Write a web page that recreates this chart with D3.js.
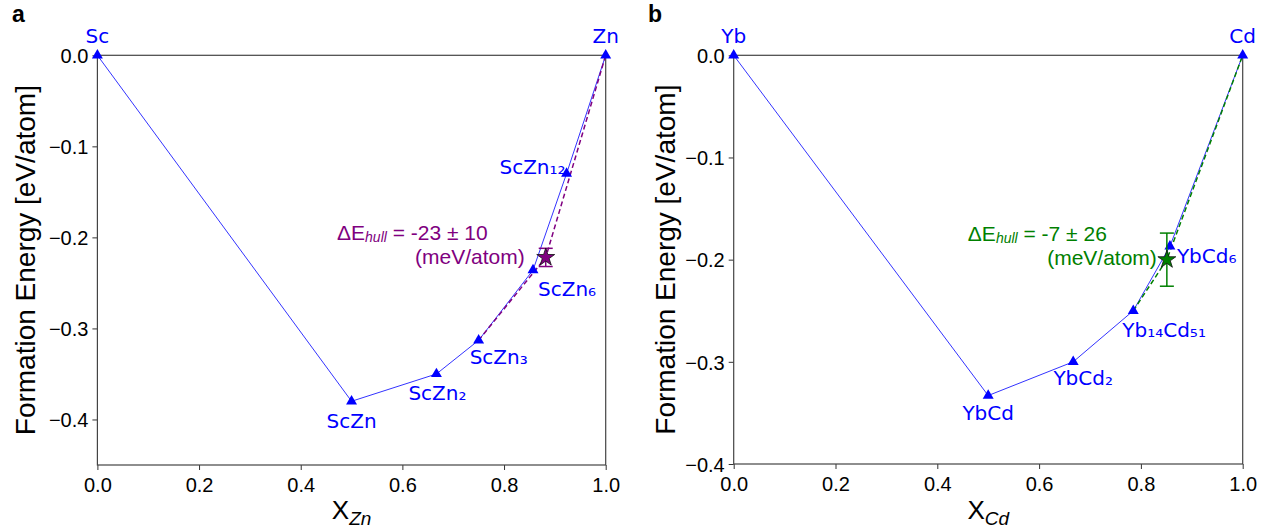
<!DOCTYPE html>
<html>
<head>
<meta charset="utf-8">
<script src="https://cdn.jsdelivr.net/npm/d3@7"></script>
<style>
  html, body { margin: 0; padding: 0; background: #fff; }
  svg { display: block; }
</style>
</head>
<body>
<svg id="chart" width="1270" height="531"></svg>
<script>
// ---------- DATA ----------
const xTicks = [0, 0.2, 0.4, 0.6, 0.8, 1.0];

// Panel a : Sc-Zn
const aNames = ["Sc", "ScZn", "ScZn₂", "ScZn₃", "ScZn₆", "ScZn₁₂", "Zn"];
const aX = [0, 0.5, 0.667, 0.75, 0.857, 0.923, 1.0];
const aY = [0, -0.38, -0.35, -0.313, -0.236, -0.13, 0];
const aYTicks = [0, -0.1, -0.2, -0.3, -0.4];
const aYDomain = [-0.45, 0];
const aStar = { x: 0.882, y: -0.222, err: 0.010 };
const aDashFrom = 3; // ScZn3
const aNote = ["-23 ± 10", "(meV/atom)"];

// Panel b : Yb-Cd
const bNames = ["Yb", "YbCd", "YbCd₂", "Yb₁₄Cd₅₁", "YbCd₆", "Cd"];
const bX = [0, 0.5, 0.667, 0.785, 0.857, 1.0];
const bY = [0, -0.333, -0.300, -0.250, -0.187, 0];
const bYTicks = [0, -0.1, -0.2, -0.3, -0.4];
const bYDomain = [-0.4, 0];
const bStar = { x: 0.851, y: -0.200, err: 0.026 };
const bDashFrom = 3; // Yb14Cd51
const bNote = ["-7 ± 26", "(meV/atom)"];

// ---------- LAYOUT / STYLE ----------
const svg = d3.select("#chart");
svg.append("rect").attr("width", 1270).attr("height", 531).attr("fill", "#fff");

const BLUE = "#0000ff";
const SANS = "'Liberation Sans', Arial, Helvetica, sans-serif";
const DEJAVU = "'DejaVu Sans', sans-serif";
const fmt = v => (v < 0 ? "−" : "") + Math.abs(v).toFixed(1);

// label offsets [anchor, dx, dy] relative to marker centre
const aLabelPos = [["middle", 0, -12], ["middle", 0, 27], ["middle", 1, 26], ["start", -9, 24],
                   ["start", 5, 26], ["end", -1, 0], ["middle", 0, -12]];
const bLabelPos = [["middle", 0, -12], ["middle", 0, 24], ["middle", 10, 23], ["start", -11, 26],
                   ["start", 7, 17], ["middle", 0, -12]];

function panel(cfg) {
  const x = d3.scaleLinear().domain([0, 1]).range([cfg.left, cfg.right]);
  const y = d3.scaleLinear().domain(cfg.yDomain).range([cfg.bottom, cfg.top]);
  const g = svg.append("g");

  // axes
  const xa = g.append("g").attr("transform", `translate(0,${cfg.bottom})`)
    .call(d3.axisBottom(x).tickValues(xTicks).tickFormat(d => d.toFixed(1)).tickSize(5).tickPadding(4));
  const ya = g.append("g").attr("transform", `translate(${cfg.left},0)`)
    .call(d3.axisLeft(y).tickValues(cfg.yTicks).tickFormat(fmt).tickSize(5).tickPadding(4));
  [xa, ya].forEach(a => {
    a.select(".domain").remove();
    a.selectAll(".tick line").attr("stroke", "#333").attr("stroke-width", 1);
    a.selectAll(".tick text").attr("fill", "#000").style("font-family", SANS).style("font-size", "20px");
  });
  xa.selectAll(".tick text").attr("dy", "0.9em");
  ya.selectAll(".tick text").attr("dy", "0.36em");

  // frame
  g.append("rect").attr("x", cfg.left).attr("y", cfg.top)
    .attr("width", cfg.right - cfg.left).attr("height", cfg.bottom - cfg.top)
    .attr("fill", "none").attr("stroke", "#444").attr("stroke-width", 1.2);

  // axis labels
  g.append("text")
    .attr("transform", `translate(${cfg.ylabelX},${(cfg.top + cfg.bottom) / 2}) rotate(-90)`)
    .attr("text-anchor", "middle").attr("dy", "0.35em")
    .style("font-family", SANS).style("font-size", "28px").attr("fill", "#000")
    .text("Formation Energy [eV/atom]");
  const xl = g.append("text")
    .attr("x", (cfg.left + cfg.right) / 2).attr("y", 519)
    .attr("text-anchor", "middle")
    .style("font-family", SANS).attr("fill", "#000");
  xl.append("tspan").style("font-size", "26px").text("X");
  xl.append("tspan").style("font-size", "19px").style("font-style", "italic").attr("dy", 6).text(cfg.sub);

  // panel letter
  g.append("text").attr("x", cfg.letterX).attr("y", 22)
    .style("font-family", SANS).style("font-size", "23px").style("font-weight", "bold")
    .text(cfg.letter);

  const pts = cfg.xs.map((v, i) => [x(v), y(cfg.ys[i])]);

  // hull line
  g.append("path").datum(pts).attr("d", d3.line())
    .attr("fill", "none").attr("stroke", BLUE).attr("stroke-width", 1).attr("stroke-opacity", 0.8);

  // dashed line through star
  const starPt = [x(cfg.star.x), y(cfg.star.y)];
  const dashPts = [pts[cfg.dashFrom], starPt, pts[pts.length - 1]];
  g.append("path").datum(dashPts).attr("d", d3.line())
    .attr("fill", "none").attr("stroke", cfg.color).attr("stroke-width", 1.5)
    .attr("stroke-dasharray", "5,3");

  // triangles
  g.selectAll(".tri").data(pts).enter().append("path")
    .attr("transform", d => `translate(${d[0]},${d[1]})`)
    .attr("d", d3.symbol(d3.symbolTriangle, 52))
    .attr("fill", BLUE);

  // labels
  g.selectAll(".lab").data(cfg.names).enter().append("text")
    .attr("x", (d, i) => pts[i][0] + cfg.labelPos[i][1])
    .attr("y", (d, i) => pts[i][1] + cfg.labelPos[i][2])
    .attr("text-anchor", (d, i) => cfg.labelPos[i][0])
    .style("font-family", DEJAVU).style("font-size", "20px").attr("fill", BLUE)
    .text(d => d);

  // error bar
  const eTop = y(cfg.star.y + cfg.star.err), eBot = y(cfg.star.y - cfg.star.err);
  g.append("line").attr("x1", starPt[0]).attr("x2", starPt[0]).attr("y1", eTop).attr("y2", eBot)
    .attr("stroke", cfg.color).attr("stroke-width", 1.5);
  [eTop, eBot].forEach(yy => g.append("line")
    .attr("x1", starPt[0] - 7).attr("x2", starPt[0] + 7).attr("y1", yy).attr("y2", yy)
    .attr("stroke", cfg.color).attr("stroke-width", 1.5));

  // star
  g.append("path").attr("transform", `translate(${starPt[0]},${starPt[1]})`)
    .attr("d", d3.symbol(d3.symbolStar, 100))
    .attr("fill", cfg.color).attr("stroke", "#111").attr("stroke-width", 0.8);

  // annotation
  const t1 = g.append("text").attr("x", starPt[0] + cfg.note1[0]).attr("y", starPt[1] + cfg.note1[1])
    .attr("text-anchor", "end").style("font-family", SANS).style("font-size", "21px").attr("fill", cfg.color);
  t1.append("tspan").text("ΔE");
  t1.append("tspan").style("font-style", "italic").style("font-size", "14px").attr("dy", 2).text("hull");
  t1.append("tspan").attr("dy", -2).text(" = " + cfg.note[0]);
  g.append("text").attr("x", starPt[0] + cfg.note2[0]).attr("y", starPt[1] + cfg.note2[1])
    .attr("text-anchor", "end").style("font-family", SANS).style("font-size", "21px").attr("fill", cfg.color)
    .text(cfg.note[1]);
}

panel({
  left: 97.4, right: 605.7, top: 55.3, bottom: 465, yDomain: aYDomain, yTicks: aYTicks,
  xs: aX, ys: aY, names: aNames, labelPos: aLabelPos, star: aStar, dashFrom: aDashFrom,
  color: "#800080", note: aNote, note1: [-58, -17], note2: [-21, 7],
  ylabelX: 25, sub: "Zn", letter: "a", letterX: 12
});
panel({
  left: 733.7, right: 1242.7, top: 55.3, bottom: 464, yDomain: bYDomain, yTicks: bYTicks,
  xs: bX, ys: bY, names: bNames, labelPos: bLabelPos, star: bStar, dashFrom: bDashFrom,
  color: "#008000", note: bNote, note1: [-60, -19], note2: [-10, 5],
  ylabelX: 665, sub: "Cd", letter: "b", letterX: 648
});
</script>
</body>
</html>
